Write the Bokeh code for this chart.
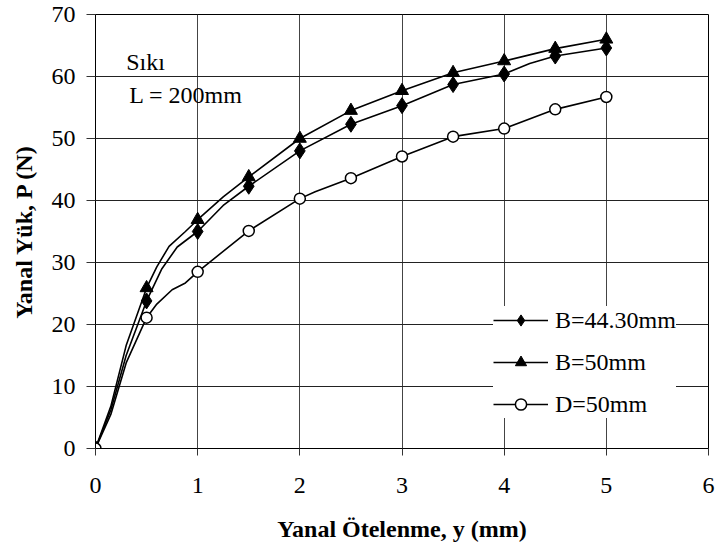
import numpy as np
from bokeh.plotting import figure
from bokeh.models import Range1d, Legend, LegendItem, Label, FixedTicker
from bokeh.embed import file_html
from bokeh.resources import INLINE

# ---- data ----
x_marks = [0, 0.5, 1, 1.5, 2, 2.5, 3, 3.5, 4, 4.5, 5]
b443_marks = [0, 23.8, 35.0, 42.3, 48.0, 52.3, 55.3, 58.7, 60.4, 63.3, 64.6]
b50_marks = [0, 25.9, 36.9, 43.8, 50.0, 54.5, 57.7, 60.6, 62.5, 64.5, 66.0]
d50_marks = [0, 21.1, 28.5, 35.1, 40.3, 43.6, 47.1, 50.3, 51.6, 54.7, 56.7]

# line paths (marker points plus visible intermediate readings)
b443_line_x = [0, 0.15, 0.3, 0.5, 0.65, 0.8, 1, 1.25, 1.5, 2, 2.5, 3, 3.5, 4, 4.25, 4.5, 5]
b443_line_y = [0, 6.2, 15.0, 23.8, 29.0, 32.5, 35.0, 39.2, 42.3, 48.0, 52.3, 55.3, 58.7, 60.4, 62.1, 63.3, 64.6]
b50_line_x = [0, 0.15, 0.3, 0.5, 0.6, 0.72, 0.88, 1, 1.25, 1.5, 2, 2.5, 3, 3.5, 4, 4.5, 5]
b50_line_y = [0, 6.8, 16.6, 25.9, 29.3, 32.6, 35.0, 36.9, 40.6, 43.8, 50.0, 54.5, 57.7, 60.6, 62.5, 64.5, 66.0]
d50_line_x = [0, 0.15, 0.3, 0.5, 0.6, 0.75, 0.88, 1, 1.5, 2, 2.15, 2.5, 3, 3.5, 4, 4.5, 5]
d50_line_y = [0, 5.5, 13.8, 21.1, 23.3, 25.6, 26.7, 28.5, 35.1, 40.3, 41.4, 43.6, 47.1, 50.3, 51.6, 54.7, 56.7]

x_ticks = [0, 1, 2, 3, 4, 5, 6]
y_ticks = [0, 10, 20, 30, 40, 50, 60, 70]
series_labels = ["B=44.30mm", "B=50mm", "D=50mm"]
x_title = "Yanal Ötelenme, y (mm)"
y_title = "Yanal Yük, P (N)"
note1 = "Sıkı"
note2 = "L = 200mm"

FONT = "'Liberation Serif', 'Times New Roman', serif"

p = figure(width=716, height=553, output_backend="svg", toolbar_location=None,
           x_range=Range1d(0, 6), y_range=Range1d(0, 70),
           min_border_left=95, min_border_right=8, min_border_top=14, min_border_bottom=105)

p.background_fill_color = "white"
p.border_fill_color = "white"
p.outline_line_color = "black"
p.outline_line_width = 1

for ax, ticks in ((p.xaxis[0], x_ticks), (p.yaxis[0], y_ticks)):
    ax.ticker = FixedTicker(ticks=ticks)
    ax.axis_line_color = "black"
    ax.axis_line_width = 1
    ax.major_tick_line_color = "#333333"
    ax.major_tick_in = 0
    ax.minor_tick_in = 0
    ax.minor_tick_out = 0
    ax.major_label_text_font = FONT
    ax.major_label_text_font_size = "24px"
    ax.major_label_text_color = "black"
    ax.axis_label_text_font = FONT
    ax.axis_label_text_font_style = "bold"
    ax.axis_label_text_font_size = "24px"
    ax.axis_label_text_color = "black"

p.xaxis.major_tick_out = 7
p.yaxis.major_tick_out = 9
p.xaxis.major_label_standoff = 22
p.yaxis.major_label_standoff = 11
p.xaxis.axis_label = x_title
p.yaxis.axis_label = y_title
p.xaxis.axis_label_standoff = 20
p.yaxis.axis_label_standoff = 12

p.xgrid.ticker = FixedTicker(ticks=x_ticks)
p.ygrid.ticker = FixedTicker(ticks=y_ticks)
p.xgrid.grid_line_color = "#444444"
p.ygrid.grid_line_color = "#222222"
p.xgrid.grid_line_width = 1
p.ygrid.grid_line_width = 1

LW = 1.6
l1 = p.line(b443_line_x, b443_line_y, line_color="black", line_width=LW)
l2 = p.line(b50_line_x, b50_line_y, line_color="black", line_width=LW)
l3 = p.line(d50_line_x, d50_line_y, line_color="black", line_width=LW)

s1 = p.scatter(x_marks, b443_marks, marker="diamond", size=16,
               fill_color="black", line_color="black", line_width=1)
s2 = p.scatter(x_marks, b50_marks, marker="triangle", size=13,
               fill_color="black", line_color="black")
s3 = p.scatter(x_marks, d50_marks, marker="circle", size=11,
               fill_color="white", line_color="black", line_width=1.5)

legend = Legend(items=[
    LegendItem(label=series_labels[0], renderers=[l1, s1]),
    LegendItem(label=series_labels[1], renderers=[l2, s2]),
    LegendItem(label=series_labels[2], renderers=[l3, s3]),
], location=(398, 30))
legend.label_text_font = FONT
legend.label_text_font_size = "24px"
legend.label_text_color = "black"
legend.glyph_width = 55
legend.glyph_height = 28
legend.label_height = 28
legend.spacing = 14
legend.padding = 9
legend.margin = 0
legend.label_standoff = 7
legend.border_line_color = None
legend.background_fill_color = "white"
legend.background_fill_alpha = 1
p.add_layout(legend)

p.add_layout(Label(x=0.30, y=62.4, text=note1, text_font=FONT, text_font_size="24px",
                   text_baseline="alphabetic", text_color="black"))
p.add_layout(Label(x=0.33, y=57.0, text=note2, text_font=FONT, text_font_size="24px",
                   text_baseline="alphabetic", text_color="black"))

open("out.html", "w").write(file_html(p, INLINE))
